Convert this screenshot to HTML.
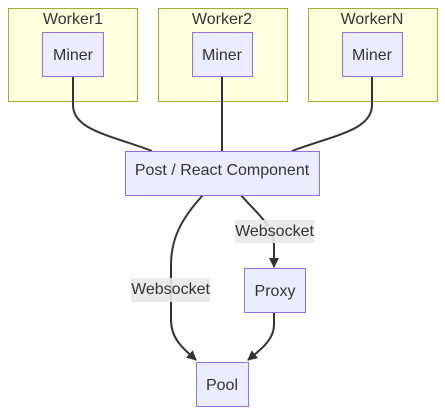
<!DOCTYPE html>
<html><head><style>
body{margin:0;background:#fff;}
svg{display:block;font-family:"Liberation Sans",Arial,sans-serif;}
</style></head><body>
<svg width="445" height="414" viewBox="0 0 445 414">
<defs><marker id="a" markerWidth="10" markerHeight="10" refX="9" refY="5" orient="auto" markerUnits="userSpaceOnUse"><path d="M0,0L10,5L0,10z" fill="#333"/></marker></defs>
<g fill="#ffffde" stroke="#aaaa33" stroke-width="1">
<rect x="8.5" y="8.5" width="129" height="93"/>
<rect x="158.5" y="8.5" width="129" height="93"/>
<rect x="308.5" y="8.5" width="129" height="93"/>
</g>
<g font-size="16" fill="#333" text-anchor="middle">
<text x="73" y="24">Worker1</text>
<text x="222" y="24">Worker2</text>
<text x="372" y="24">WorkerN</text>
</g>
<g fill="none" stroke="#333" stroke-width="2">
<path d="M73,76 V105 C73,130 110,135 152,151"/>
<path d="M222,76 V151"/>
<path d="M372,76 V105 C372,130 335,135 292,151"/>
<path d="M203,195 C180,220 171,240 171,265 V320 C171,340 185,350 196,360" marker-end="url(#a)"/>
<path d="M241,195 C255,212 274,225 274,245 V267" marker-end="url(#a)"/>
<path d="M274,312 V325 C274,340 260,350 248,360" marker-end="url(#a)"/>
</g>
<g fill="#ececff" stroke="#9370db" stroke-width="1">
<rect x="42.5" y="32.5" width="61" height="44"/>
<rect x="192.5" y="32.5" width="60" height="44"/>
<rect x="342.5" y="32.5" width="60" height="44"/>
<rect x="125.5" y="151.5" width="194" height="44"/>
<rect x="244.5" y="268.5" width="61" height="44"/>
<rect x="196.5" y="362.5" width="52" height="44"/>
</g>
<g fill="#e8e8e8" opacity="0.9">
<rect x="235" y="220" width="79" height="23"/>
<rect x="131" y="278" width="79" height="24"/>
</g>
<g font-size="16" fill="#333" text-anchor="middle">
<text x="73" y="60">Miner</text>
<text x="222" y="60">Miner</text>
<text x="372" y="60">Miner</text>
<text x="222" y="175">Post / React Component</text>
<text x="275" y="296">Proxy</text>
<text x="222" y="390">Pool</text>
<text x="274.5" y="236">Websocket</text>
<text x="170.5" y="294">Websocket</text>
</g>
</svg>
</body></html>
